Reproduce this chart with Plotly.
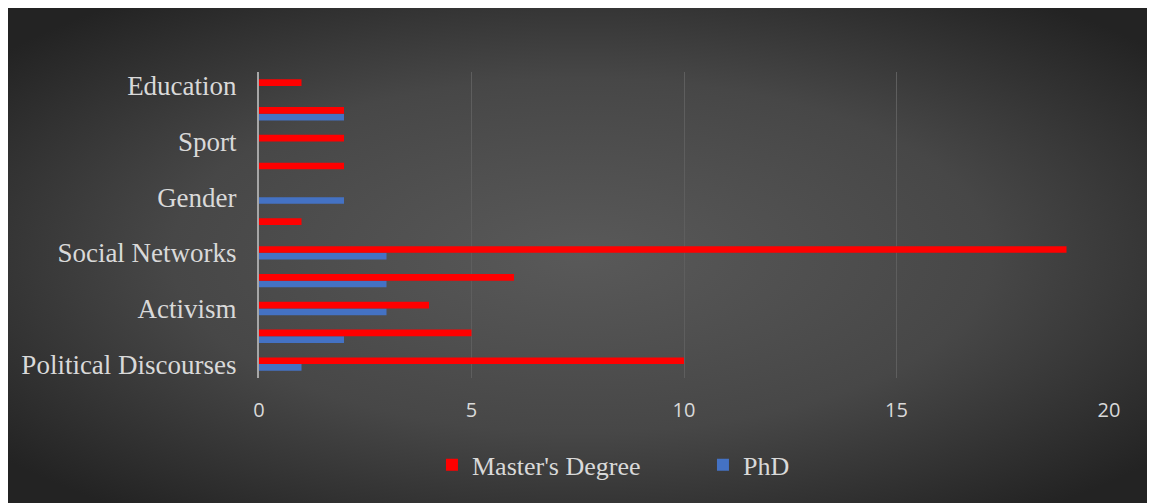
import base64
import plotly.graph_objects as go

categories = ["Political Discourses", "Category 2", "Activism", "Category 4",
              "Social Networks", "Category 6", "Gender", "Category 8",
              "Sport", "Category 10", "Education"]
shown_labels = ["Political Discourses", "Activism", "Social Networks",
                "Gender", "Sport", "Education"]
masters = [10, 5, 4, 6, 19, 1, 0, 2, 2, 2, 1]
phd = [1, 2, 3, 3, 3, 0, 2, 0, 0, 2, 0]
x_ticks = [0, 5, 10, 15, 20]

W, H = 1147, 495
L, R, T, B = 251, 46, 64, 125
pw, ph = W - L - R, H - T - B

svg = f"""<svg xmlns='http://www.w3.org/2000/svg' width='{W}' height='{H}' viewBox='0 0 {W} {H}' preserveAspectRatio='none'>
<defs><radialGradient id='g' cx='50%' cy='50%' r='65%'>
<stop offset='0%' stop-color='#595959'/>
<stop offset='55%' stop-color='#474747'/>
<stop offset='100%' stop-color='#232323'/>
</radialGradient></defs>
<rect width='{W}' height='{H}' fill='url(#g)'/></svg>"""
src = "data:image/svg+xml;base64," + base64.b64encode(svg.encode()).decode()

fig = go.Figure()
fig.add_trace(go.Bar(y=categories, x=phd, orientation="h", name="PhD",
                     marker=dict(color="#4472c4", line=dict(width=0))))
fig.add_trace(go.Bar(y=categories, x=masters, orientation="h", name="Master's Degree",
                     marker=dict(color="#ff0000", line=dict(width=0))))

fig.add_layout_image(dict(source=src, xref="paper", yref="paper",
                          x=-L / pw, y=1 + T / ph, sizex=W / pw, sizey=H / ph,
                          xanchor="left", yanchor="top", sizing="stretch",
                          layer="below"))

serif = "Liberation Serif, Times New Roman, serif"
fig.update_layout(
    width=W, height=H,
    margin=dict(l=L, r=R, t=T, b=B, autoexpand=False),
    paper_bgcolor="#3a3a3a",
    plot_bgcolor="rgba(0,0,0,0)",
    barmode="group",
    bargap=0.52,
    bargroupgap=0,
    showlegend=True,
    legend=dict(orientation="h", x=0.2035, xanchor="left", y=-0.284, yanchor="middle",
                traceorder="reversed", entrywidth=226,
                font=dict(family=serif, size=26, color="#d9d9d9"),
                bgcolor="rgba(0,0,0,0)", itemwidth=30),
    xaxis=dict(range=[0, 20], tickvals=x_ticks, showgrid=True, gridcolor="#5e5e5e",
               gridwidth=1.3, zeroline=False, showline=False, automargin=False,
               ticks="outside", ticklen=14, tickcolor="rgba(0,0,0,0)",
               tickfont=dict(family="Open Sans, DejaVu Sans, sans-serif", size=20, color="#d9d9d9")),
    yaxis=dict(categoryorder="array", categoryarray=categories,
               tickvals=shown_labels, ticktext=shown_labels, automargin=False,
               showgrid=False, zeroline=False, showline=True, linecolor="#a6a6a6",
               linewidth=2, ticks="outside", ticklen=15, tickcolor="rgba(0,0,0,0)",
               tickfont=dict(family=serif, size=27, color="#d9d9d9")),
)

fig.write_html("out.html")
